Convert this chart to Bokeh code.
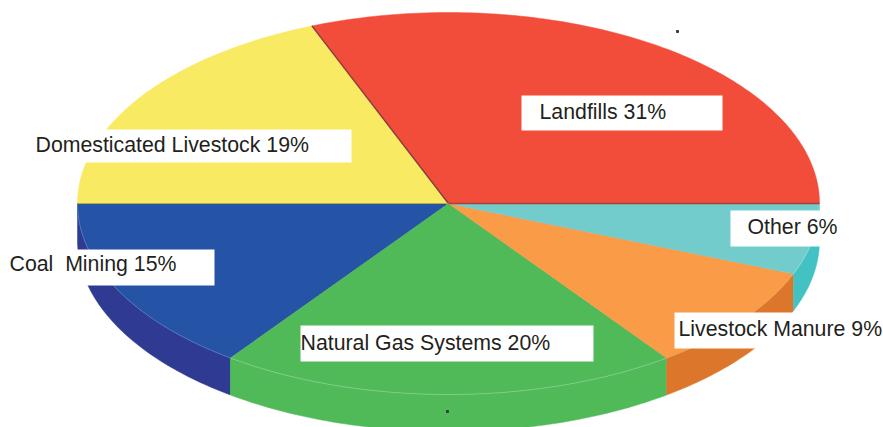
import math
from bokeh.plotting import figure
from bokeh.embed import file_html
from bokeh.resources import INLINE
from bokeh.core.properties import value

# Data, starting at 3 o'clock and going counter-clockwise
order = ["Landfills", "Domesticated Livestock", "Coal  Mining", "Natural Gas Systems", "Livestock Manure", "Other"]
shares = [31, 19, 15, 20, 9, 6]
top_colors = ["#F24C3A", "#F9EA63", "#2553A5", "#50B958", "#F99B47", "#72CCCC"]
side_colors = ["#F24C3A", "#F9EA63", "#2F3A92", "#50B958", "#DC762B", "#42C2C2"]
rim_colors = [None, None, "#6F8FC4", "#9AD79E", "#E8A468", "#A6E0E0"]
label_texts = ["Landfills 31%", "Domesticated Livestock 19%", "Coal \u00a0Mining 15%",
               "Natural Gas Systems 20%", "Livestock Manure 9%", "Other 6%"]

W, H = 883, 427
CX, CY, RX, RY, DEPTH = 448, 203, 371, 191, 37

p = figure(width=W, height=H, x_range=(0, W), y_range=(H, 0), output_backend="svg",
           toolbar_location=None, min_border=0, outline_line_color=None,
           styles={"position": "absolute", "left": "0px", "top": "0px"})
p.axis.visible = False
p.grid.visible = False


def arc(a0, a1, dy=0):
    n = max(2, int(abs(a1 - a0)) + 2)
    angs = [math.radians(a0 + (a1 - a0) * i / (n - 1)) for i in range(n)]
    return [CX + RX * math.cos(a) for a in angs], [CY + dy - RY * math.sin(a) for a in angs]


# Walk the shares into angles
angles = []
start = 0.0
for s in shares:
    angles.append((start, start + s * 3.6))
    start += s * 3.6

# Side walls, visible on the lower half only
for (a0, a1), col in zip(angles, side_colors):
    lo, hi = max(a0, 180), min(a1, 360)
    if hi <= lo:
        continue
    x1, y1 = arc(lo, hi)
    x2, y2 = arc(hi, lo, DEPTH)
    p.patch(x1 + x2, y1 + y2, fill_color=col, line_color=col, line_width=0.5)

# Top face
for (a0, a1), col in zip(angles, top_colors):
    x, y = arc(a0, a1)
    p.patch([CX] + x, [CY] + y, fill_color=col, line_color=col, line_width=0.5)

# Thin light rim where the top face meets the wall
for (a0, a1), col in zip(angles, rim_colors):
    if col is None:
        continue
    x, y = arc(a0, a1)
    p.line(x, y, line_color=col, line_width=0.6)

# Dark rim along the two straight edges of the first slice
x0, y0 = arc(angles[0][1], angles[0][1])
p.line([CX, x0[0]], [CY, y0[0]], line_color="#8E3A3F", line_width=1.5)
p.line([CX, CX + RX], [CY, CY], line_color="#A8403F", line_width=1.5)
p.line([CX, CX - RX], [CY, CY], line_color="#B5A85A", line_width=1)

# White label plates and their text
box_left = [521, 30, 0, 300, 674, 730]
box_right = [722, 351, 214, 593, 883, 822]
box_top = [95, 129, 249, 325, 312, 210]
box_bottom = [130, 162, 285, 361, 348, 246]
text_x = [539, 35, 9, 300, 678, 747]
text_y = [111, 144, 263, 342, 328, 226]
p.quad(left=box_left, right=box_right, top=box_top, bottom=box_bottom, fill_color="white", line_color=None)
p.text(x=text_x, y=text_y, text=label_texts, text_font=value("Liberation Sans"), text_font_size="21.3px",
       text_color="#231F20", text_baseline="middle", text_align="left")

# Two stray specks in the source artwork
p.scatter(x=[677, 447], y=[31, 411], size=2, color="#3A3A3A", marker="square")

open("out.html", "w").write(file_html(p, INLINE))
